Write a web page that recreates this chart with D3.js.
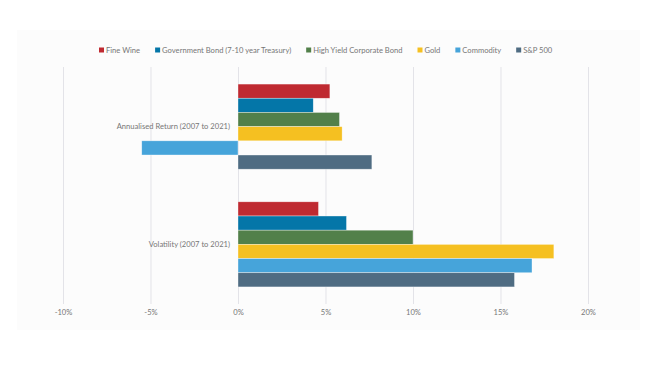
<!DOCTYPE html>
<html>
<head>
<meta charset="utf-8">
<script src="https://cdn.jsdelivr.net/npm/d3@7"></script>
<style>
  body { margin: 0; background: #fff; }
  text { font-family: Lato, 'Open Sans', sans-serif; }
</style>
</head>
<body>
<div id="app"></div>
<script>
'use strict'
const W = 649
const H = 377

// data
const categories = ['Annualised Return (2007 to 2021)', 'Volatility (2007 to 2021)']
const seriesNames = ['Fine Wine', 'Government Bond (7-10 year Treasury)', 'High Yield Corporate Bond', 'Gold', 'Commodity', 'S&P 500']
const seriesColors = ['#BF2A31', '#0476A8', '#52804A', '#F5C021', '#46A4DA', '#4F6C82']
const annualised = [5.25, 4.3, 5.8, 5.95, -5.5, 7.65]
const volatility = [4.6, 6.2, 10.0, 18.05, 16.8, 15.8]
const xTicks = [-10, -5, 0, 5, 10, 15, 20]

const values = [annualised, volatility]
const table = categories.map((c, ci) => ({
  cat: c,
  vals: seriesNames.map((s, si) => ({ s, si, v: values[ci][si] }))
}))

const svg = d3.select('#app').append('svg')
  .attr('width', W)
  .attr('height', H)

// faint panel
svg.append('rect')
  .attr('x', 17).attr('y', 30)
  .attr('width', 623).attr('height', 300)
  .attr('fill', '#fcfcfc')

const margin = { left: 63, right: 61, top: 67, bottom: 73 }

const x = d3.scaleLinear()
  .domain([-10, 20])
  .range([margin.left, W - margin.right])

const y = d3.scaleBand()
  .domain(categories)
  .range([margin.top, H - margin.bottom])
  .paddingInner(0.277)
  .paddingOuter(0.145)

const ySub = d3.scaleBand()
  .domain(seriesNames)
  .range([0, y.bandwidth()])

/*
 * gridlines + x axis
 */
const xAxis = svg.append('g')
  .attr('transform', `translate(0, ${H - margin.bottom})`)
  .call(d3.axisBottom(x).tickValues(xTicks).tickFormat(d => d + '%')
    .tickSize(-(H - margin.bottom - margin.top)).tickPadding(6))
xAxis.select('.domain').remove()
xAxis.selectAll('line').attr('stroke', '#e3e3e8').attr('stroke-width', 1)
xAxis.selectAll('text').attr('fill', '#777').attr('font-size', 7.6)

/*
 * bars
 */
const groups = svg.selectAll('.grp')
  .data(table)
  .enter()
  .append('g')
  .attr('class', 'grp')
  .attr('transform', d => `translate(0, ${y(d.cat)})`)

groups.selectAll('rect')
  .data(d => d.vals)
  .enter()
  .append('rect')
  .attr('x', d => x(Math.min(0, d.v)))
  .attr('y', d => ySub(d.s))
  .attr('width', d => Math.abs(x(d.v) - x(0)))
  .attr('height', ySub.bandwidth())
  .attr('fill', d => seriesColors[d.si])
  .attr('stroke', '#fff')
  .attr('stroke-opacity', 0.6)
  .attr('stroke-width', 0.6)

// category labels
svg.selectAll('.cat')
  .data(categories)
  .enter()
  .append('text')
  .attr('class', 'cat')
  .attr('x', x(0) - 8)
  .attr('y', d => y(d) + y.bandwidth() / 2)
  .attr('dy', '0.35em')
  .attr('text-anchor', 'end')
  .attr('font-size', 7.6)
  .attr('fill', '#777')
  .text(d => d)

/*
 * legend
 */
const legend = svg.append('g').attr('transform', 'translate(99, 50)')
let lx = 0
seriesNames.forEach((s, i) => {
  const item = legend.append('g').attr('transform', `translate(${lx}, 0)`)
  item.append('rect')
    .attr('x', 0).attr('y', -2.5)
    .attr('width', 5).attr('height', 5)
    .attr('fill', seriesColors[i])
  const t = item.append('text')
    .attr('x', 7).attr('y', 0)
    .attr('dy', '0.35em')
    .attr('font-size', 7.6)
    .attr('fill', '#777')
    .text(s)
  lx += 7 + t.node().getComputedTextLength() + 15
})
</script>
</body>
</html>
